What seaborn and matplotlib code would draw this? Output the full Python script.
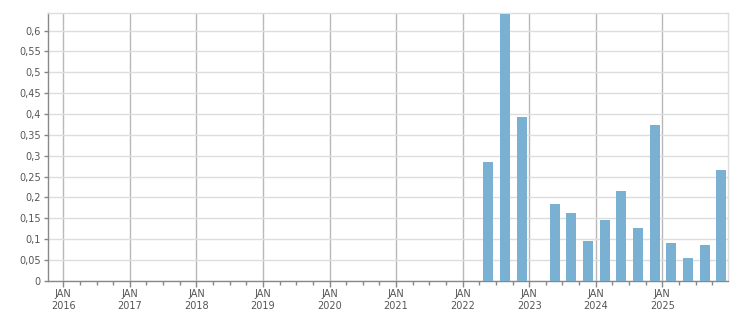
import matplotlib
matplotlib.use("Agg")
import matplotlib.pyplot as plt
import seaborn as sns
import pandas as pd
import numpy as np

# Data: quarterly values 2016Q1 .. 2025Q4
years = [y for y in range(2016, 2026) for _ in range(4)]
quarters = [1, 2, 3, 4] * 10
values = [0.0] * 25 + [
    0.285, 0.640, 0.393,          # 2022 Q2-Q4
    0.0, 0.184, 0.162, 0.095,     # 2023
    0.146, 0.215, 0.126, 0.374,   # 2024
    0.090, 0.054, 0.086, 0.266,   # 2025
]
ytick_vals = [0, 0.05, 0.1, 0.15, 0.2, 0.25, 0.3, 0.35, 0.4, 0.45, 0.5, 0.55, 0.6]
ytick_labels = ["0", "0,05", "0,1", "0,15", "0,2", "0,25", "0,3", "0,35", "0,4",
                "0,45", "0,5", "0,55", "0,6"]
xtick_years = list(range(2016, 2026))
xtick_labels = [f"JAN\n{y}" for y in xtick_years]

df = pd.DataFrame({"year": years, "q": quarters, "value": values})
df["pos"] = df["year"] + (df["q"] - 1) * 0.25 + 0.135

sns.set_style("white")
plt.rcParams["font.family"] = ["DejaVu Sans"]

fig = plt.figure(figsize=(7.51, 3.13), dpi=100)
ax = fig.add_axes([0.0635, 0.1032, 0.9059, 0.8543])

sns.barplot(data=df, x="pos", y="value", native_scale=True, width=0.6,
            color="#7ab1d3", saturation=1, linewidth=0, ax=ax, zorder=3)

ax.set_xlim(2015.766, 2025.987)
ax.set_ylim(0, 0.6416)

ax.set_yticks(ytick_vals)
ax.set_yticklabels(ytick_labels)
ax.set_xticks(xtick_years)
ax.set_xticklabels(xtick_labels)
ax.set_xticks([y + q * 0.25 for y in range(2015, 2026) for q in range(1, 4)
               if 2015.766 < y + q * 0.25 < 2025.987], minor=True)

ax.yaxis.grid(True, color="#dddddd", linewidth=1, zorder=0)
ax.xaxis.grid(True, which="major", color="#b8b8b8", linewidth=1, zorder=0)
ax.set_axisbelow(True)

for s in ["top", "right"]:
    ax.spines[s].set_color("#dddddd")
    ax.spines[s].set_linewidth(1)
for s in ["left", "bottom"]:
    ax.spines[s].set_color("#888888")
    ax.spines[s].set_linewidth(1)

ax.tick_params(axis="both", which="major", labelsize=7, colors="#888888",
               labelcolor="#555555", length=4, width=1, direction="out", pad=2)
ax.tick_params(axis="x", which="minor", length=3, width=1, colors="#888888",
               direction="out")
ax.tick_params(axis="y", length=3)
ax.tick_params(bottom=True, left=True)
ax.tick_params(axis="x", which="minor", bottom=True)
ax.set_xlabel("")
ax.set_ylabel("")

fig.savefig("out.png", dpi=100)
